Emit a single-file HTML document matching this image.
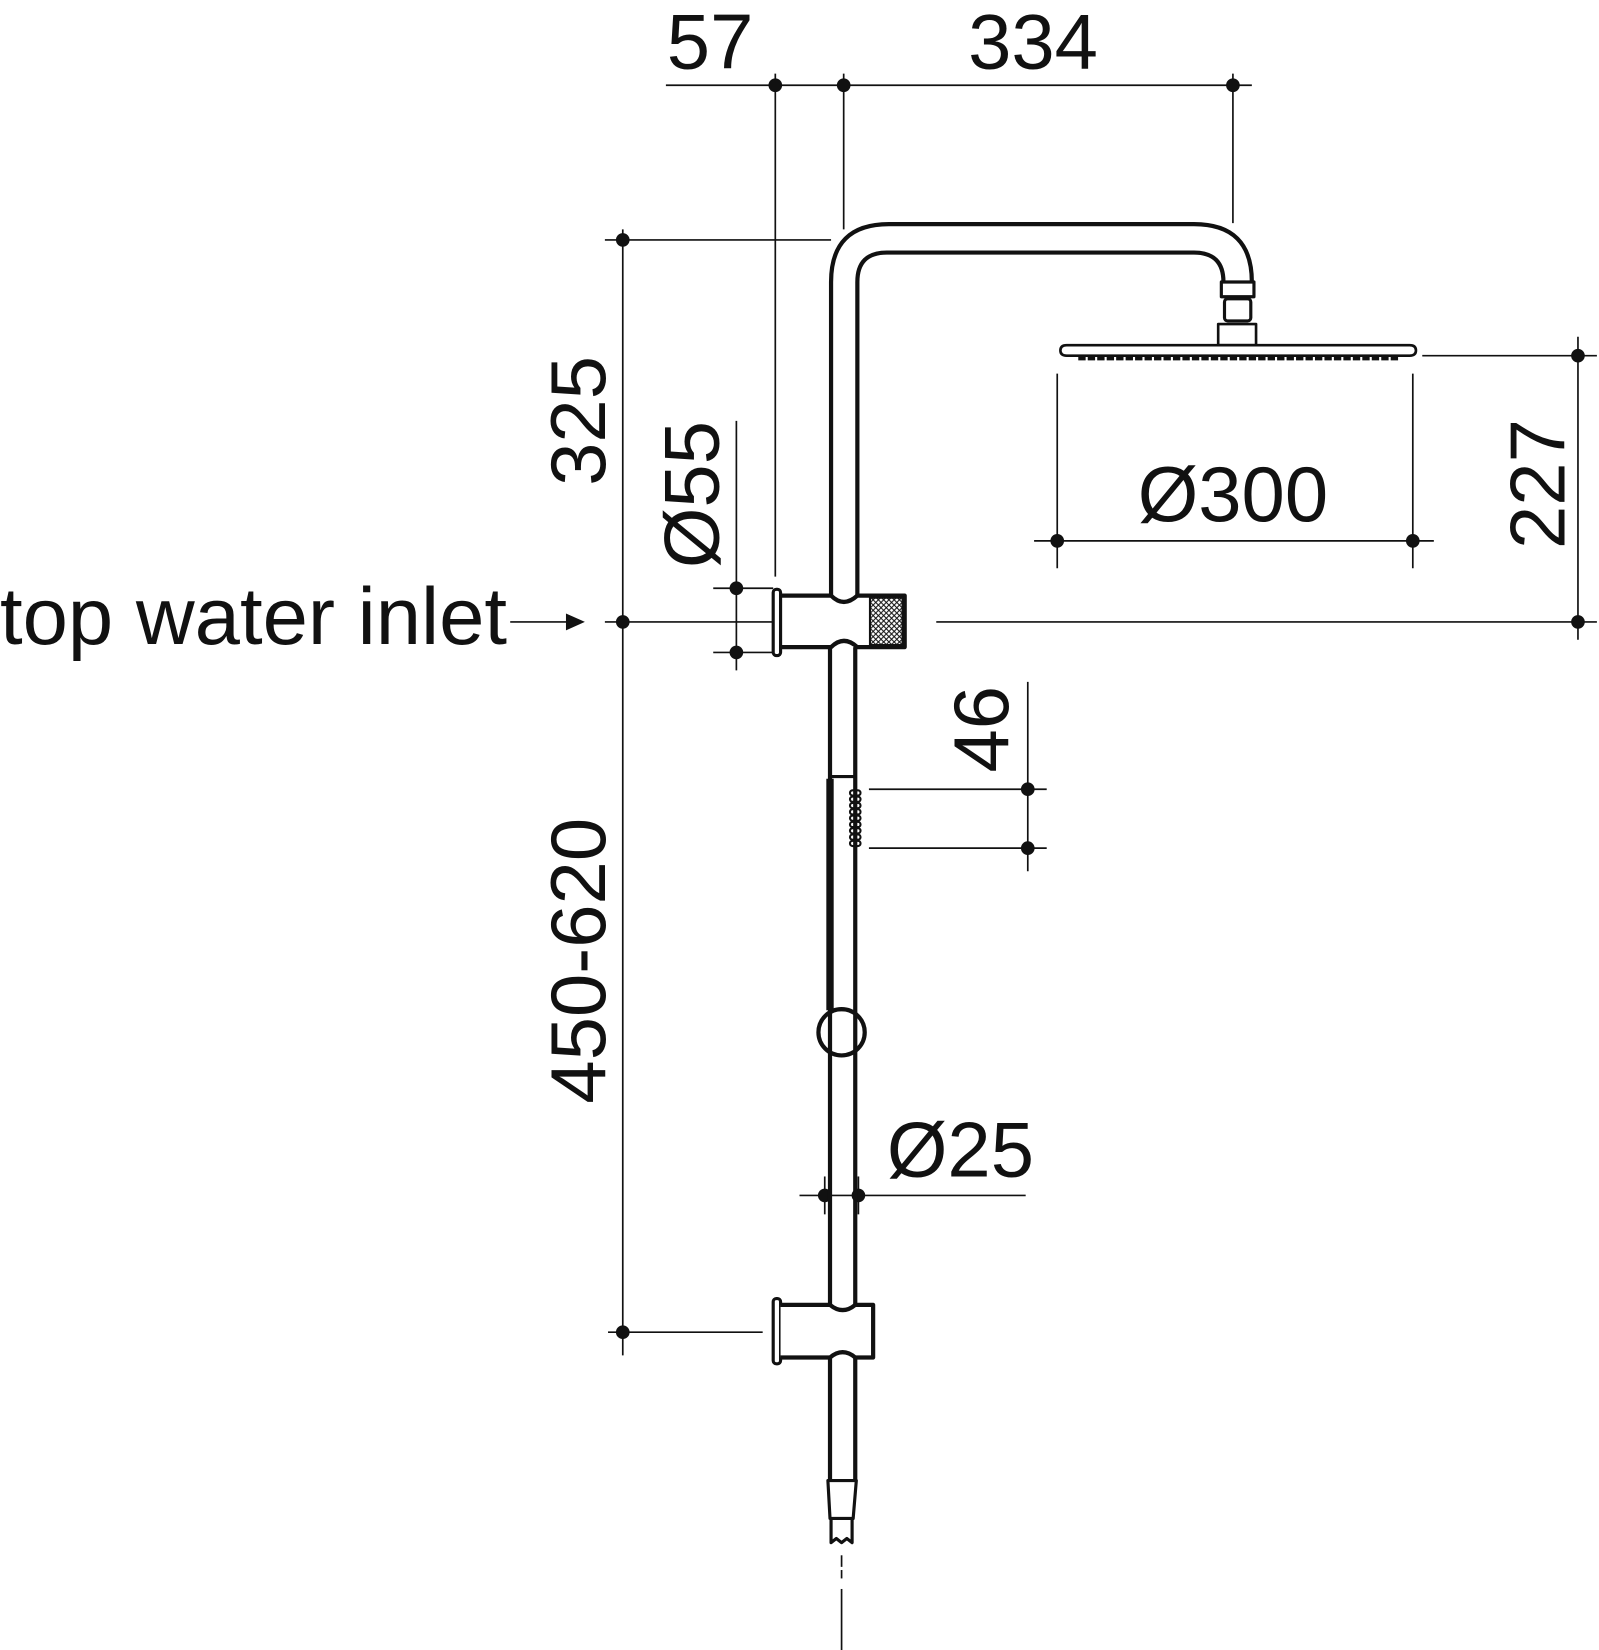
<!DOCTYPE html>
<html><head><meta charset="utf-8"><style>
html,body{margin:0;padding:0;background:#fff;}
svg{display:block;}
text{font-family:"Liberation Sans",sans-serif;fill:#111;}
</style></head><body>
<svg width="1599" height="1650" viewBox="0 0 1520 1568" preserveAspectRatio="none" xmlns="http://www.w3.org/2000/svg">
<defs>
<pattern id="kn" width="5" height="5" patternUnits="userSpaceOnUse">
<path d="M0 0L5 5M5 0L0 5" stroke="#111" stroke-width="1"/>
</pattern>
</defs>
<g stroke="#111" stroke-width="1.6" fill="none">
<line x1="633" y1="81" x2="1190" y2="81"/>
<line x1="737" y1="70" x2="737" y2="548"/>
<line x1="802" y1="70" x2="802" y2="218"/>
<line x1="1172" y1="70" x2="1172" y2="212"/>
<line x1="592" y1="218" x2="592" y2="1288"/>
<line x1="575" y1="228" x2="790" y2="228"/>
<line x1="575" y1="591" x2="735" y2="591"/>
<line x1="578" y1="1266" x2="725" y2="1266"/>
<line x1="700" y1="400" x2="700" y2="637"/>
<line x1="678" y1="559" x2="735" y2="559"/>
<line x1="678" y1="620" x2="735" y2="620"/>
<line x1="485" y1="591" x2="540" y2="591"/>
<line x1="1005" y1="355" x2="1005" y2="540"/>
<line x1="1343" y1="355" x2="1343" y2="540"/>
<line x1="983" y1="514" x2="1363" y2="514"/>
<line x1="1500" y1="320" x2="1500" y2="608"/>
<line x1="1352" y1="338" x2="1518" y2="338"/>
<line x1="890" y1="591" x2="1518" y2="591"/>
<line x1="977" y1="648" x2="977" y2="828"/>
<line x1="826" y1="750" x2="995" y2="750"/>
<line x1="826" y1="806" x2="995" y2="806"/>
<line x1="760" y1="1136" x2="975" y2="1136"/>
<line x1="784" y1="1118" x2="784" y2="1154"/>
<line x1="816" y1="1118" x2="816" y2="1154"/>
<line x1="800" y1="1478" x2="800" y2="1489"/>
<line x1="800" y1="1492" x2="800" y2="1500"/>
<line x1="800" y1="1510" x2="800" y2="1568"/>
</g>
<path d="M538 583L556 591L538 599Z" fill="#111"/>
<g fill="#111">
<circle cx="737" cy="81" r="6.5"/><circle cx="802" cy="81" r="6.5"/><circle cx="1172" cy="81" r="6.5"/>
<circle cx="592" cy="228" r="6.5"/><circle cx="592" cy="591" r="6.5"/><circle cx="592" cy="1266" r="6.5"/>
<circle cx="700" cy="559" r="6.5"/><circle cx="700" cy="620" r="6.5"/>
<circle cx="1005" cy="514" r="6.5"/><circle cx="1343" cy="514" r="6.5"/>
<circle cx="1500" cy="338" r="6.5"/><circle cx="1500" cy="591" r="6.5"/>
<circle cx="977" cy="750" r="6.5"/><circle cx="977" cy="806" r="6.5"/>
<circle cx="784" cy="1136" r="6.5"/><circle cx="816" cy="1136" r="6.5"/>
</g>
<g stroke="#111" stroke-width="4" fill="none" stroke-linejoin="round">
<path d="M790 566V268Q790 213 845 213H1135Q1190 213 1190 268"/>
<path d="M815 566V268Q815 240 843 240H1135Q1163 240 1163 268"/>
<rect x="1161" y="268" width="31" height="14" stroke-width="3"/>
<rect x="1164" y="284" width="25" height="21" rx="3" stroke-width="3"/>
<rect x="1158" y="308" width="36" height="20" stroke-width="2.5"/>
<path d="M1014 328H1340Q1346 328 1346 333Q1346 338 1340 338H1014Q1008 338 1008 333Q1008 328 1014 328Z" stroke-width="2.5"/>
<rect x="735" y="560" width="7" height="63" rx="3" stroke-width="3"/>
<path d="M742 566H790Q802 578 815 566H860V615H815Q802 603 790 615H742"/>
<path d="M789 615V1407M813 615V1407"/>
<path d="M789 738H813" stroke-width="3"/>
<circle cx="800" cy="981" r="22" stroke-width="4"/>
<rect x="735" y="1234" width="7" height="62" rx="3" stroke-width="3"/>
<path d="M742 1240H789Q801 1250 813 1240H830V1290H813Q801 1280 789 1290H742" fill="#fff"/>
<path d="M787 1407H814L811 1443H789Z" stroke-width="3"/>
<path d="M790 1443V1466L795 1462L800 1466L805 1462L810 1466V1443" stroke-width="3"/>
</g>
<path d="M789 740V960" stroke="#111" stroke-width="7"/>
<path d="M792 960H809" stroke="#111" stroke-width="2"/>
<rect x="827" y="568" width="31" height="45" fill="url(#kn)" stroke="#111" stroke-width="2"/>
<g fill="none" stroke="#111" stroke-width="2">
<rect x="808" y="751" width="10" height="5" rx="2.5"/><rect x="808" y="757" width="10" height="5" rx="2.5"/>
<rect x="808" y="763" width="10" height="5" rx="2.5"/><rect x="808" y="769" width="10" height="5" rx="2.5"/>
<rect x="808" y="775" width="10" height="5" rx="2.5"/><rect x="808" y="781" width="10" height="5" rx="2.5"/>
<rect x="808" y="787" width="10" height="5" rx="2.5"/><rect x="808" y="793" width="10" height="5" rx="2.5"/>
<rect x="808" y="799" width="10" height="5" rx="2.5"/>
</g>
<path d="M1025 340H1330" stroke="#111" stroke-width="5" stroke-dasharray="7 2"/>
<g font-size="74">
<text x="675" y="65" text-anchor="middle">57</text>
<text x="982" y="65" text-anchor="middle">334</text>
<text x="1172" y="495" text-anchor="middle">Ø300</text>
<text x="913" y="1118" text-anchor="middle">Ø25</text>
<text x="0" y="612" font-size="77" textLength="482" lengthAdjust="spacingAndGlyphs">top water inlet</text>
<text transform="translate(575,400) rotate(-90)" text-anchor="middle">325</text>
<text transform="translate(683,470) rotate(-90)" text-anchor="middle">Ø55</text>
<text transform="translate(1487,460) rotate(-90)" text-anchor="middle">227</text>
<text transform="translate(958,693) rotate(-90)" text-anchor="middle">46</text>
<text transform="translate(575,913) rotate(-90)" text-anchor="middle">450-620</text>
</g>
</svg>
</body></html>
